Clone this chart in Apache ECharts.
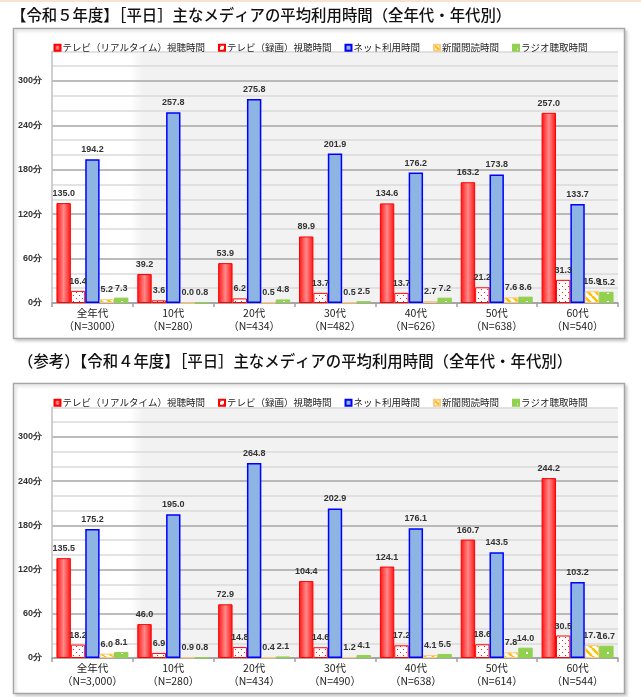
<!DOCTYPE html>
<html>
<head>
<meta charset="utf-8">
<script src="https://cdn.jsdelivr.net/npm/echarts@6/dist/echarts.min.js"></script>
<style>
  html, body { margin: 0; padding: 0; background: #fff; }
  #main { width: 641px; height: 697px; }
</style>
</head>
<body>
<div id="main"></div>
<script>
// 凡例・系列名
const seriesNames = ['テレビ（リアルタイム）視聴時間', 'テレビ（録画）視聴時間', 'ネット利用時間', '新聞閲読時間', 'ラジオ聴取時間'];
const ageGroups = ['全年代', '10代', '20代', '30代', '40代', '50代', '60代'];
const yTicks = [0, 60, 120, 180, 240, 300];

// 令和5年度
const r5N = ['3000', '280', '434', '482', '626', '638', '540'];
const r5RealTime = [135.0, 39.2, 53.9, 89.9, 134.6, 163.2, 257.0];
const r5Recorded = [16.4, 3.6, 6.2, 13.7, 13.7, 21.2, 31.3];
const r5Net = [194.2, 257.8, 275.8, 201.9, 176.2, 173.8, 133.7];
const r5Paper = [5.2, 0.0, 0.5, 0.5, 2.7, 7.6, 15.9];
const r5Radio = [7.3, 0.8, 4.8, 2.5, 7.2, 8.6, 15.2];

// 令和4年度（参考）
const r4N = ['3,000', '280', '434', '490', '638', '614', '544'];
const r4RealTime = [135.5, 46.0, 72.9, 104.4, 124.1, 160.7, 244.2];
const r4Recorded = [18.2, 6.9, 14.8, 14.6, 17.2, 18.6, 30.5];
const r4Net = [175.2, 195.0, 264.8, 202.9, 176.1, 143.5, 103.2];
const r4Paper = [6.0, 0.9, 0.4, 1.2, 4.1, 7.8, 17.7];
const r4Radio = [8.1, 0.8, 2.1, 4.1, 5.5, 14.0, 16.7];

const FONT = "'Noto Sans CJK JP', 'Liberation Sans', sans-serif";
const NUMFONT = "'Liberation Sans', Arial, sans-serif";

// fill patterns
function tile(w, h, draw) {
  const c = document.createElement('canvas');
  c.width = w; c.height = h;
  draw(c.getContext('2d'));
  return { image: c, repeat: 'repeat' };
}
const dotsRed = tile(6, 6, g => {
  g.fillStyle = '#fff'; g.fillRect(0, 0, 6, 6);
  g.fillStyle = '#ff2020';
  g.fillRect(1, 1, 1, 1); g.fillRect(4, 4, 1, 1);
});
const stripesOrange = tile(8, 8, g => {
  g.fillStyle = '#fff'; g.fillRect(0, 0, 8, 8);
  g.strokeStyle = '#ffc000'; g.lineWidth = 2.6;
  for (let k = -8; k <= 16; k += 8) {
    g.beginPath(); g.moveTo(k, 0); g.lineTo(k + 8, 8); g.stroke();
  }
});
const dotsGreen = tile(9, 9, g => {
  g.fillStyle = '#92d050'; g.fillRect(0, 0, 9, 9);
  g.fillStyle = '#fff'; g.fillRect(4, 4, 2, 2);
});
const redGrad = new echarts.graphic.LinearGradient(0, 0, 1, 0, [
  { offset: 0, color: '#ff1010' },
  { offset: 0.5, color: '#ff8a8a' },
  { offset: 1, color: '#ff1010' }
]);

const styles = [
  { color: redGrad, borderColor: '#ff0000', borderWidth: 1 },
  { color: dotsRed, borderColor: '#ff0000', borderWidth: 1 },
  { color: '#8db4e2', borderColor: '#0000ff', borderWidth: 1.5 },
  { color: stripesOrange, borderColor: '#f8cb8a', borderWidth: 1 },
  { color: dotsGreen, borderColor: '#92d050', borderWidth: 1 }
];

const gridBg = new echarts.graphic.LinearGradient(0, 0, 1, 0, [
  { offset: 0, color: '#ffffff' },
  { offset: 0.138, color: '#ffffff' },
  { offset: 0.16, color: '#f2f2f2' },
  { offset: 1, color: '#f2f2f2' }
]);

function makeSeries(idx, lists) {
  return lists.map((data, i) => ({
    name: seriesNames[i],
    type: 'bar',
    xAxisIndex: idx,
    yAxisIndex: idx,
    data: data,
    barGap: '0%',
    barCategoryGap: '11%',
    itemStyle: styles[i],
    label: {
      show: true, position: 'top', distance: 5,
      formatter: p => p.value.toFixed(1),
      fontSize: 9, fontWeight: 'bold', color: '#333', fontFamily: NUMFONT
    }
  }));
}

function xAxisFor(idx, nList) {
  return {
    type: 'category', gridIndex: idx,
    data: ageGroups.map((a, i) => a + '\n（N=' + nList[i] + '）'),
    axisLine: { lineStyle: { color: '#a0a0a0', width: 1.5 } },
    axisTick: { show: true, length: 4, lineStyle: { color: '#a0a0a0', width: 1.5 } },
    axisLabel: { fontSize: 10.5, lineHeight: 13, color: '#222', margin: 4, fontFamily: FONT, interval: 0 }
  };
}
function yAxisFor(idx) {
  return {
    type: 'value', gridIndex: idx, min: 0, max: 340, interval: 20,
    axisLine: { show: true, lineStyle: { color: '#c0c0c0', width: 1.5 } },
    axisTick: { show: false },
    axisLabel: {
      fontSize: 9, fontWeight: 'bold', color: '#333', margin: 10, fontFamily: NUMFONT,
      formatter: v => (yTicks.indexOf(v) >= 0 ? v + '分' : '')
    },
    splitLine: { show: true, lineStyle: { color: ['#a6a6a6', '#dadada', '#dadada'], width: 1.5 } }
  };
}
function legendFor(top) {
  return {
    top: top, left: 'center', itemWidth: 6, itemHeight: 6, itemGap: 13,
    icon: 'rect',
    textStyle: { fontSize: 9.5, color: '#222', fontFamily: FONT, padding: [0, 0, 0, -3] },
    data: seriesNames
  };
}

const chart = echarts.init(document.getElementById('main'));
chart.setOption({
  animation: false,
  backgroundColor: '#fff',
  textStyle: { fontFamily: FONT },
  graphic: [
    { type: 'rect', z: -100, shape: { x: 0, y: 0, width: 641, height: 2 }, style: { fill: '#fbe2cf' } },
    { type: 'rect', z: -100, shape: { x: 13.5, y: 28.5, width: 611, height: 310 },
      style: { fill: '#fff', stroke: '#a6a6a6', lineWidth: 1.5, shadowBlur: 3, shadowOffsetX: 2, shadowOffsetY: 2, shadowColor: 'rgba(0,0,0,0.18)' } },
    { type: 'rect', z: -100, shape: { x: 13.5, y: 383.5, width: 611, height: 310 },
      style: { fill: '#fff', stroke: '#a6a6a6', lineWidth: 1.5, shadowBlur: 3, shadowOffsetX: 2, shadowOffsetY: 2, shadowColor: 'rgba(0,0,0,0.18)' } }
  ],
  title: [
    { text: '【令和５年度】［平日］主なメディアの平均利用時間（全年代・年代別）', left: 6, top: 2,
      textStyle: { fontSize: 15.4, fontWeight: 500, color: '#111', fontFamily: FONT } },
    { text: '（参考）【令和４年度】［平日］主なメディアの平均利用時間（全年代・年代別）', left: 13, top: 348,
      textStyle: { fontSize: 15.4, fontWeight: 500, color: '#111', fontFamily: FONT } }
  ],
  legend: [legendFor(38), legendFor(393)],
  grid: [
    { left: 52, right: 23, top: 51.4, bottom: 394, show: true, backgroundColor: gridBg, borderWidth: 0 },
    { left: 52, right: 23, top: 407.5, bottom: 39, show: true, backgroundColor: gridBg, borderWidth: 0 }
  ],
  xAxis: [xAxisFor(0, r5N), xAxisFor(1, r4N)],
  yAxis: [yAxisFor(0), yAxisFor(1)],
  series: [
    ...makeSeries(0, [r5RealTime, r5Recorded, r5Net, r5Paper, r5Radio]),
    ...makeSeries(1, [r4RealTime, r4Recorded, r4Net, r4Paper, r4Radio])
  ]
});
</script>
</body>
</html>
